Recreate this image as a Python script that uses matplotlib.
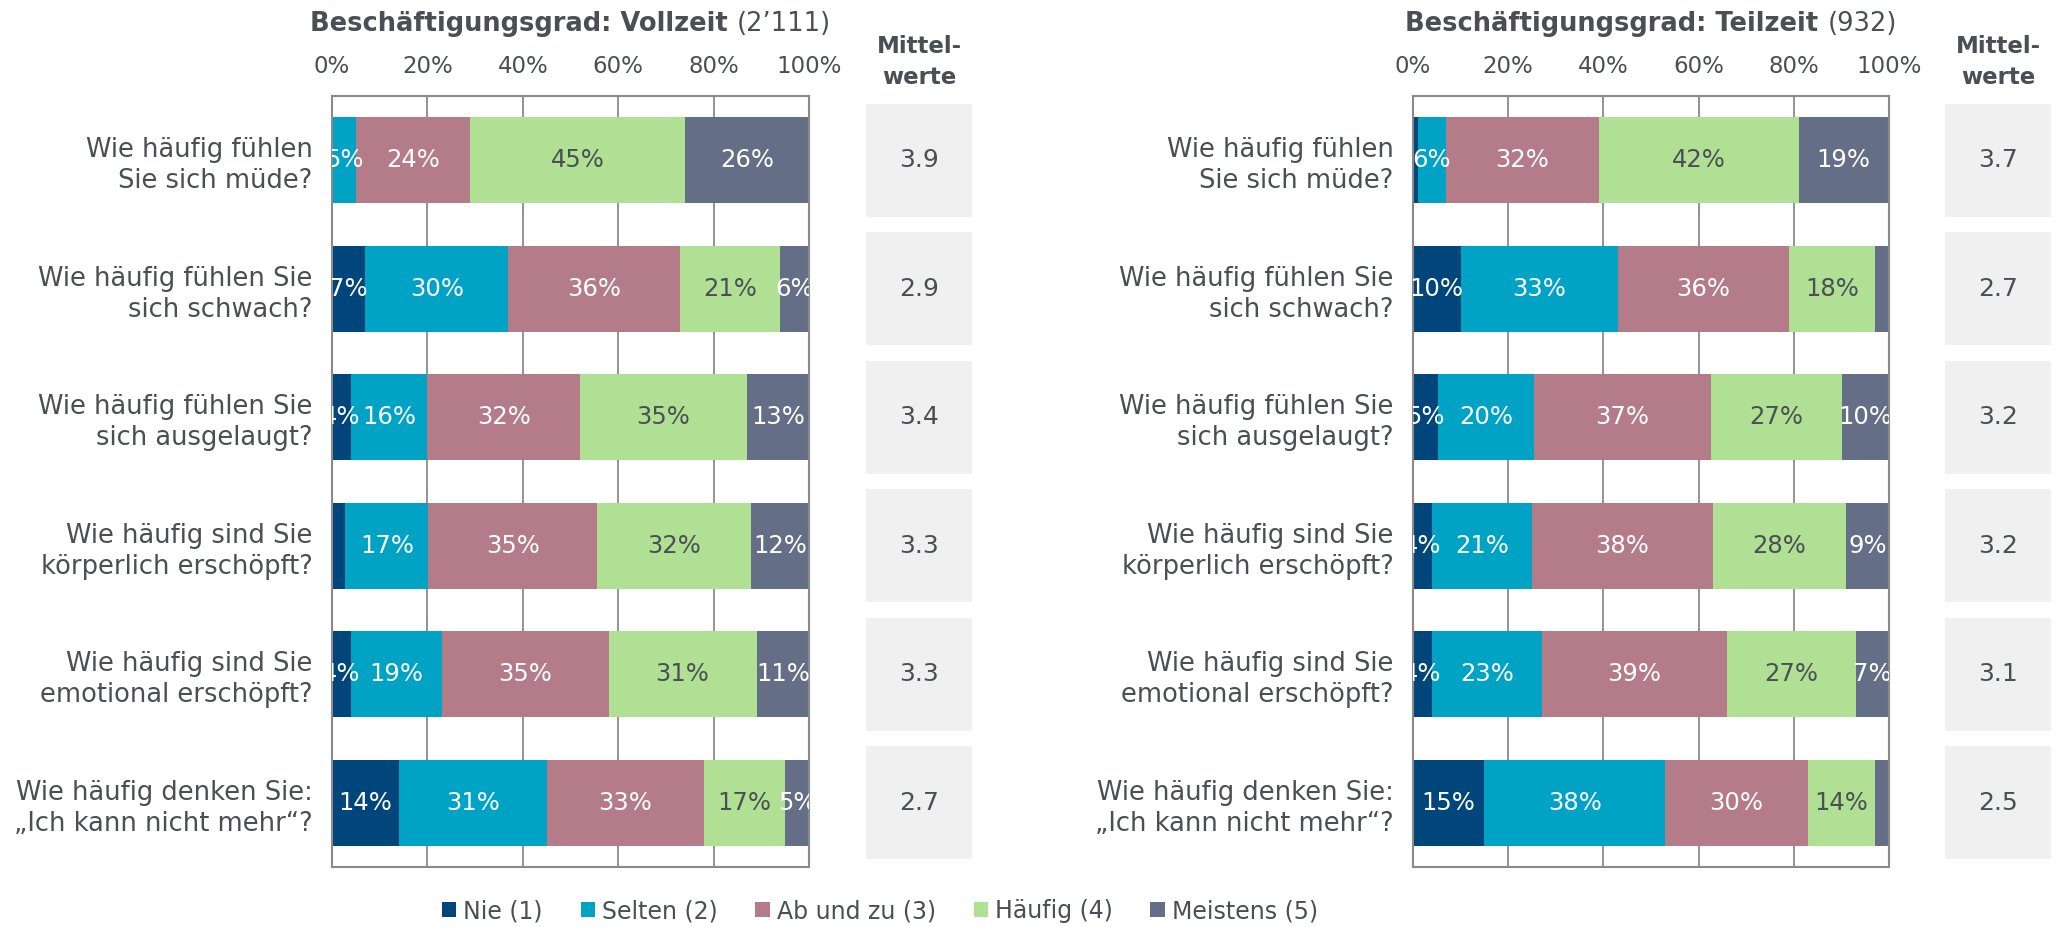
import matplotlib
matplotlib.use("Agg")
import matplotlib.pyplot as plt
from matplotlib.patches import Patch
import numpy as np

plt.rcParams['font.family'] = ['DejaVu Sans']

# ---- data -------------------------------------------------------------
questions = [
    "Wie häufig fühlen\nSie sich müde?",
    "Wie häufig fühlen Sie\nsich schwach?",
    "Wie häufig fühlen Sie\nsich ausgelaugt?",
    "Wie häufig sind Sie\nkörperlich erschöpft?",
    "Wie häufig sind Sie\nemotional erschöpft?",
    "Wie häufig denken Sie:\n„Ich kann nicht mehr“?",
]
levels = ["Nie (1)", "Selten (2)", "Ab und zu (3)", "Häufig (4)", "Meistens (5)"]
level_colors = ["#00467a", "#00a3c4", "#b37c88", "#b0e093", "#646e86"]
label_colors = ["white", "white", "white", "#4a4f55", "white"]

# Vollzeit (n = 2'111), percent per answer level
vz_nie      = [0, 7, 4, 2.8, 4, 14]
vz_selten   = [5, 30, 16, 17.4, 19, 31]
vz_abundzu  = [24, 36, 32, 35.4, 35, 33]
vz_haeufig  = [45, 21, 35, 32.2, 31, 17]
vz_meistens = [26, 6, 13, 12.2, 11, 5]
vz_mean     = [3.9, 2.9, 3.4, 3.3, 3.3, 2.7]

# Teilzeit (n = 932), percent per answer level
tz_nie      = [1, 10, 5.2, 4, 4, 15]
tz_selten   = [6, 33, 20.2, 21, 23, 38]
tz_abundzu  = [32, 36, 37.3, 38, 39, 30]
tz_haeufig  = [42, 18, 27.4, 28, 27, 14]
tz_meistens = [19, 3, 9.9, 9, 7, 3]
tz_mean     = [3.7, 2.7, 3.2, 3.2, 3.1, 2.5]

x_ticks = [0, 20, 40, 60, 80, 100]

panels = [
    dict(title_bold="Beschäftigungsgrad: Vollzeit", title_n="(2’111)",
         series=[vz_nie, vz_selten, vz_abundzu, vz_haeufig, vz_meistens],
         means=vz_mean, bar_px=(332, 809), box_px=(866, 972)),
    dict(title_bold="Beschäftigungsgrad: Teilzeit", title_n="(932)",
         series=[tz_nie, tz_selten, tz_abundzu, tz_haeufig, tz_meistens],
         means=tz_mean, bar_px=(1413, 1889), box_px=(1945, 2051)),
]

# ---- layout -----------------------------------------------------------
W, H = 2067, 927
TEXT = "#4a4f55"
GRID = "#8a8a8a"
fig = plt.figure(figsize=(W / 100, H / 100), dpi=100)

top_px, bottom_px = 96, 867


def rect(x0, x1):
    return [x0 / W, 1 - bottom_px / H, (x1 - x0) / W, (bottom_px - top_px) / H]


y = np.arange(len(questions))

for p in panels:
    ax = fig.add_axes(rect(*p["bar_px"]))
    left = np.zeros(len(questions))
    for vals, col, lcol in zip(p["series"], level_colors, label_colors):
        vals = np.asarray(vals, dtype=float)
        ax.barh(y, vals, left=left, height=0.666, color=col,
                edgecolor="none", zorder=2)
        for yi, (l, v) in enumerate(zip(left, vals)):
            if v >= 3.5:
                ax.text(l + v / 2, yi, f"{v:.0f}%", ha="center", va="center",
                        color=lcol, fontsize=17.5, zorder=3, clip_on=True)
        left += vals

    ax.set_xlim(0, 100)
    ax.set_ylim(len(questions) - 0.5, -0.5)
    ax.set_xticks(x_ticks)
    ax.set_xticklabels([f"{t}%" for t in x_ticks])
    ax.xaxis.tick_top()
    ax.tick_params(axis="x", length=0, pad=13, labelsize=16.5, colors=TEXT)
    ax.set_yticks(y)
    ax.set_yticklabels(questions, fontsize=18.5, color=TEXT, linespacing=1.25)
    ax.tick_params(axis="y", length=0, pad=14)
    ax.grid(axis="x", color=GRID, lw=1.3, zorder=0)
    ax.set_axisbelow(True)
    for s in ax.spines.values():
        s.set_color(GRID)
        s.set_linewidth(1.5)

    # title: bold label followed by the sample size in regular weight
    xc = (p["bar_px"][0] + p["bar_px"][1]) / 2 / W
    yt = 1 - 24 / H
    t1 = fig.text(xc, yt, p["title_bold"] + " ", fontsize=18.5, fontweight="bold",
                  color=TEXT, ha="left", va="center")
    t2 = fig.text(xc, yt, p["title_n"], fontsize=18.5, color=TEXT,
                  ha="left", va="center")
    fig.canvas.draw()
    r = fig.canvas.get_renderer()
    w1 = t1.get_window_extent(r).width / W
    w2 = t2.get_window_extent(r).width / W
    start = xc - (w1 + w2) / 2
    t1.set_x(start)
    t2.set_x(start + w1)

    # mean value boxes
    bx = fig.add_axes(rect(*p["box_px"]))
    bx.barh(y, np.ones(len(y)), height=0.882, color="#f0f0f0", edgecolor="none")
    for yi, m in enumerate(p["means"]):
        bx.text(0.5, yi, f"{m:.1f}", ha="center", va="center",
                fontsize=18, color=TEXT)
    bx.set_xlim(0, 1)
    bx.set_ylim(len(questions) - 0.5, -0.5)
    bx.axis("off")

    bxc = (p["box_px"][0] + p["box_px"][1]) / 2 / W
    fig.text(bxc, 1 - 62 / H, "Mittel-\nwerte", ha="center", va="center",
             fontsize=16.5, fontweight="bold", color=TEXT, linespacing=1.4)

handles = [Patch(facecolor=c, edgecolor="none") for c in level_colors]
fig.legend(handles, levels, loc="center", ncol=5,
           bbox_to_anchor=(880 / W, 1 - 911 / H), frameon=False,
           fontsize=17, labelcolor=TEXT, handlelength=0.6, handleheight=0.6,
           handletextpad=0.3, columnspacing=1.6, borderpad=0)

fig.savefig("out.png", dpi=100, facecolor="white")
